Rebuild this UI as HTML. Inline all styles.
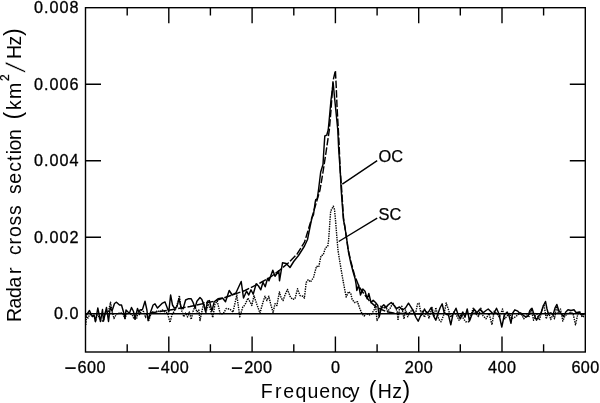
<!DOCTYPE html>
<html><head><meta charset="utf-8"><title>Radar cross section spectrum</title>
<style>
html,body{margin:0;padding:0;background:#fff;}
body{width:600px;height:403px;overflow:hidden;}
svg{display:block;}
text{font-family:"Liberation Sans","DejaVu Sans",sans-serif;fill:#000;}
.tk{font-size:16.2px;letter-spacing:1.0px;stroke:#000;stroke-width:0.3px;}
.tx{font-size:16.2px;letter-spacing:0.45px;stroke:#000;stroke-width:0.3px;}
.ax{font-size:19.5px;}
.lb{font-size:16.4px;stroke:#000;stroke-width:0.25px;}
</style></head><body>
<svg width="600" height="403" viewBox="0 0 600 403">
<rect x="0" y="0" width="600" height="403" fill="#fff"/>
<rect x="85.5" y="7.7" width="499.8" height="344.3" fill="none" stroke="#000" stroke-width="1.4"/>
<path d="M127.2 352.0 V344.3 M127.2 7.7 V15.4 M168.8 352.0 V336.5 M168.8 7.7 V23.2 M210.4 352.0 V344.3 M210.4 7.7 V15.4 M252.1 352.0 V336.5 M252.1 7.7 V23.2 M293.8 352.0 V344.3 M293.8 7.7 V15.4 M335.4 352.0 V336.5 M335.4 7.7 V23.2 M377.1 352.0 V344.3 M377.1 7.7 V15.4 M418.7 352.0 V336.5 M418.7 7.7 V23.2 M460.3 352.0 V344.3 M460.3 7.7 V15.4 M502.0 352.0 V336.5 M502.0 7.7 V23.2 M543.6 352.0 V344.3 M543.6 7.7 V15.4 M85.5 237.3 H101.0 M585.3 237.3 H569.8 M85.5 160.8 H101.0 M585.3 160.8 H569.8 M85.5 84.2 H101.0 M585.3 84.2 H569.8" stroke="#000" stroke-width="1.4" fill="none"/>
<path d="M85.5 313.8 H585.3" stroke="#000" stroke-width="1.45" fill="none"/>
<path d="M85.8 325.0 L86.5 316.5 L88.0 318.0 L89.5 315.0 L91.0 314.5 L92.5 316.5 L94.0 316.0 L95.5 321.5 L97.0 315.0 L98.5 316.5 L100.5 321.0 L102.0 321.5 L103.5 320.5 L105.0 313.0 L106.5 310.0 L108.0 314.0 L109.0 309.0 L110.5 302.2 L112.0 311.0 L114.0 318.5 L116.5 314.0 L118.5 313.5 L120.5 312.5 L123.0 314.0 L125.0 318.5 L126.5 314.0 L128.5 313.0 L130.0 314.0 L132.0 314.5 L134.0 319.0 L136.5 319.0 L138.0 313.0 L139.5 314.5 L141.9 310.0 L143.8 311.9 L145.6 317.5 L146.9 313.1 L148.8 320.6 L150.6 315.0 L152.5 311.9 L155.0 313.1 L157.5 310.6 L160.0 311.9 L162.5 310.0 L165.0 311.9 L167.5 313.1 L170.0 322.5 L171.9 315.0 L173.8 311.9 L176.2 307.5 L178.1 301.2 L179.4 295.6 L180.6 306.2 L181.9 311.2 L183.8 316.9 L185.6 313.1 L187.5 316.9 L189.4 311.9 L191.2 319.4 L193.1 311.2 L195.0 306.2 L196.9 311.9 L198.8 310.0 L200.0 320.5 L202.2 310.0 L203.8 302.5 L206.0 312.2 L208.2 304.0 L210.5 310.0 L212.8 317.5 L215.0 304.0 L217.2 301.0 L220.2 313.8 L223.2 313.8 L226.2 308.5 L230.0 309.2 L233.0 312.2 L236.8 295.0 L239.8 316.8 L242.8 307.0 L245.0 304.8 L248.0 298.0 L251.8 305.5 L254.0 295.8 L257.0 304.8 L260.0 313.1 L262.5 303.8 L265.0 296.2 L266.9 300.6 L268.8 296.2 L270.6 303.8 L273.1 312.5 L275.0 303.8 L276.9 305.6 L279.4 291.9 L281.2 298.1 L283.1 300.6 L285.0 295.0 L287.5 289.4 L290.0 296.2 L292.5 299.4 L295.0 298.8 L297.5 288.8 L300.0 295.6 L303.1 296.2 L304.4 298.1 L306.2 282.5 L308.2 279.7 L310.5 282.0 L313.5 277.5 L316.5 266.2 L318.7 267.0 L321.0 255.7 L323.2 255.0 L325.5 247.7 L327.7 246.5 L328.5 241.0 L329.2 232.0 L330.0 220.0 L330.7 211.0 L333.3 206.2 L334.5 209.5 L335.5 220.0 L336.7 235.0 L338.0 250.5 L340.2 264.0 L342.5 277.5 L344.7 289.5 L346.2 297.0 L348.5 291.7 L350.7 293.2 L352.2 299.5 L354.5 302.5 L357.5 301.8 L359.8 308.5 L362.0 313.8 L364.2 316.0 L366.5 313.0 L368.8 315.2 L371.8 313.8 L374.0 310.0 L375.5 304.8 L377.0 320.5 L379.2 316.8 L380.8 306.2 L383.8 308.5 L386.0 306.2 L387.5 311.5 L390.5 307.8 L392.8 302.5 L395.0 307.0 L397.2 311.5 L398.0 320.5 L399.5 308.5 L401.8 306.2 L404.0 319.0 L405.5 310.0 L407.8 316.8 L410.0 311.5 L413.0 310.0 L415.2 315.2 L417.5 304.0 L419.0 303.2 L421.2 314.5 L422.2 311.2 L424.5 317.2 L426.8 311.2 L429.0 318.0 L432.0 307.5 L434.2 316.5 L435.8 307.5 L438.8 319.5 L441.0 321.8 L444.0 314.2 L446.2 303.0 L448.5 309.8 L450.8 317.2 L453.8 312.0 L456.0 314.2 L459.0 320.2 L461.2 313.5 L463.5 318.8 L465.8 321.8 L468.8 321.8 L471.0 315.0 L473.2 308.2 L476.2 314.2 L478.5 316.5 L480.8 308.2 L483.0 315.8 L486.0 318.8 L489.0 313.5 L492.0 324.8 L494.2 311.2 L497.2 314.2 L499.5 317.2 L502.5 309.0 L504.8 318.8 L507.2 315.8 L509.5 313.5 L511.8 318.8 L514.8 317.2 L517.8 315.0 L520.8 312.8 L523.8 318.8 L526.8 315.0 L529.0 316.5 L531.2 309.0 L533.5 320.2 L536.5 312.8 L539.5 320.2 L541.8 309.8 L544.0 304.5 L546.2 318.8 L548.5 312.0 L550.8 319.5 L553.0 314.2 L554.5 318.8 L556.8 305.2 L558.2 312.8 L560.5 309.0 L562.8 321.0 L565.0 315.8 L568.0 313.5 L571.0 312.0 L573.2 314.2 L575.5 324.8 L577.8 314.2 L580.0 312.0 L582.2 317.2 L584.5 315.8" stroke="#000" stroke-width="1.4" fill="none" stroke-dasharray="1.4 1.0" stroke-linejoin="round"/>
<path d="M150.0 313.0 L170.0 310.0 L190.0 306.5 L215.0 301.0 L230.0 295.7 L245.0 290.5 L260.0 283.0 L270.0 277.5 L279.0 270.7 L288.0 263.2 L297.0 254.2 L304.5 242.2 L310.0 224.0 L315.0 207.0 L320.0 190.0 L323.0 172.0 L326.0 152.5 L328.2 137.5 L329.3 130.0 L331.0 110.0 L333.0 81.0 L335.4 70.6 L336.2 86.0 L337.0 106.0 L338.0 124.0 L339.0 142.0 L340.2 170.5 L341.7 190.0 L343.5 218.0 L346.5 238.0 L348.0 249.0 L351.0 262.0 L354.5 275.0 L359.0 286.5 L364.0 294.0 L369.5 301.0 L377.0 307.7 L386.0 311.5 L395.0 313.3 L425.0 314.0" stroke="#000" stroke-width="1.45" fill="none" stroke-dasharray="7.5 2" stroke-linejoin="round"/>
<path d="M85.5 314.0 L86.5 315.0 L89.5 310.5 L91.0 314.0 L92.5 316.5 L94.0 315.0 L95.5 321.5 L97.8 308.0 L100.5 321.5 L102.5 309.5 L103.5 321.0 L106.5 307.5 L108.5 321.5 L110.3 307.0 L112.0 311.0 L114.5 303.5 L116.5 302.2 L119.5 305.0 L121.5 305.0 L123.5 312.0 L125.0 318.5 L126.0 310.0 L128.0 312.0 L129.5 313.0 L131.5 307.5 L133.5 311.5 L135.0 319.0 L137.5 308.5 L139.0 312.5 L140.0 310.0 L142.5 309.4 L145.0 301.2 L146.9 310.0 L148.1 320.6 L150.6 311.9 L153.1 305.0 L155.0 303.8 L157.5 308.1 L160.0 305.6 L162.5 303.1 L165.0 301.9 L166.9 306.9 L168.8 311.9 L170.6 295.0 L172.5 305.0 L174.4 308.1 L176.9 306.9 L179.0 298.8 L181.2 307.5 L183.1 308.8 L185.6 300.0 L188.1 298.8 L191.2 298.8 L193.1 302.5 L195.0 308.1 L196.9 301.2 L200.0 297.5 L201.9 299.4 L203.8 305.0 L205.6 311.9 L207.5 301.2 L209.4 300.6 L211.9 311.2 L214.2 301.8 L218.0 298.8 L222.5 298.0 L225.5 301.8 L229.2 290.5 L232.2 295.0 L236.0 292.8 L241.2 281.5 L243.5 298.0 L246.5 291.2 L248.8 295.0 L251.0 289.8 L253.2 294.2 L256.2 283.8 L258.5 286.0 L260.8 289.8 L263.0 282.2 L265.2 286.8 L267.5 278.5 L269.0 280.8 L272.8 270.2 L275.0 276.2 L278.8 271.0 L279.5 280.8 L282.5 262.8 L286.2 263.5 L290.0 267.5 L293.7 261.5 L298.5 255.5 L302.0 250.0 L304.5 246.0 L307.5 239.5 L310.2 226.0 L312.0 217.7 L313.5 214.7 L315.0 203.5 L315.7 199.7 L317.2 199.0 L318.5 190.0 L320.7 172.0 L323.0 164.5 L323.7 152.5 L324.8 136.0 L326.7 135.2 L328.2 130.0 L329.2 120.0 L331.0 100.0 L333.2 83.0 L334.3 95.0 L336.0 112.0 L337.8 130.0 L338.7 149.5 L340.2 170.5 L341.2 190.0 L342.3 205.0 L343.5 220.0 L345.0 227.5 L346.5 238.0 L347.3 243.0 L348.5 252.0 L350.7 262.5 L353.0 271.5 L355.2 279.0 L356.0 283.5 L356.8 290.5 L358.7 285.2 L360.5 295.0 L362.8 289.0 L365.0 291.2 L367.2 298.8 L368.8 293.5 L371.0 302.5 L373.2 300.2 L375.5 302.5 L377.8 305.5 L379.2 316.8 L381.5 307.0 L383.8 304.8 L386.0 307.8 L388.2 304.8 L391.2 302.5 L394.2 305.5 L396.5 308.5 L399.5 307.0 L402.5 310.0 L405.5 307.8 L408.5 303.2 L411.5 307.8 L413.8 312.2 L416.0 317.5 L418.2 321.2 L420.5 316.0 L422.2 314.2 L424.5 309.0 L426.8 313.5 L429.0 311.2 L431.2 307.5 L433.5 315.8 L435.8 320.2 L438.0 313.5 L440.2 307.5 L442.2 303.8 L444.0 312.0 L446.2 314.2 L448.5 315.0 L450.8 324.8 L453.0 314.2 L456.0 308.2 L458.2 315.0 L460.5 318.8 L462.8 312.0 L465.0 317.2 L467.2 309.0 L469.5 321.0 L471.8 315.0 L474.0 309.0 L477.0 312.8 L480.0 309.0 L483.0 312.8 L486.0 310.5 L488.2 309.0 L490.5 311.2 L493.5 314.2 L496.5 308.2 L498.8 313.5 L501.8 327.0 L504.0 316.5 L505.0 314.2 L507.2 312.0 L508.8 315.0 L511.0 323.2 L512.5 313.5 L514.8 309.8 L517.8 311.2 L520.0 313.5 L523.0 315.0 L526.0 317.2 L528.2 315.8 L529.8 310.5 L532.0 308.2 L534.2 315.0 L536.5 320.2 L538.8 315.8 L541.0 313.5 L543.2 306.0 L545.5 301.5 L547.0 309.0 L548.5 314.2 L550.8 312.8 L553.0 315.0 L555.2 307.5 L556.8 304.5 L559.0 311.2 L561.2 313.5 L563.5 316.5 L565.8 312.0 L568.0 309.8 L571.0 310.5 L574.0 309.8 L576.2 312.8 L579.2 312.0 L581.5 315.0 L584.5 314.2" stroke="#000" stroke-width="1.45" fill="none" stroke-linejoin="round"/>
<path d="M377.2 160.7 L342.3 184.2 M377.2 218.2 L338.7 241.5" stroke="#000" stroke-width="1.4" fill="none"/>
<text x="378.6" y="162.4" class="lb">OC</text>
<text x="378.6" y="220.2" class="lb">SC</text>
<text x="85.2" y="373.0" text-anchor="middle" class="tx"><tspan font-size="20.5px" dy="1.9">−</tspan><tspan dy="-1.9" dx="0.6">600</tspan></text>
<text x="168.5" y="373.0" text-anchor="middle" class="tx"><tspan font-size="20.5px" dy="1.9">−</tspan><tspan dy="-1.9" dx="0.6">400</tspan></text>
<text x="251.8" y="373.0" text-anchor="middle" class="tx"><tspan font-size="20.5px" dy="1.9">−</tspan><tspan dy="-1.9" dx="0.6">200</tspan></text>
<text x="335.7" y="373.0" text-anchor="middle" class="tx">0</text>
<text x="419.0" y="373.0" text-anchor="middle" class="tx">200</text>
<text x="502.3" y="373.0" text-anchor="middle" class="tx">400</text>
<text x="585.6" y="373.0" text-anchor="middle" class="tx">600</text>
<text x="79.6" y="319.1" text-anchor="end" class="tk">0.0</text>
<text x="79.6" y="242.6" text-anchor="end" class="tk">0.002</text>
<text x="79.6" y="166.1" text-anchor="end" class="tk">0.004</text>
<text x="79.6" y="89.5" text-anchor="end" class="tk">0.006</text>
<text x="79.6" y="13.0" text-anchor="end" class="tk">0.008</text>
<text y="397.8" class="ax"><tspan x="260.8 274.9 283.3 295.5 307.4 319.3 331 341.7 349.7">Frequency</tspan> <tspan x="368.8" font-size="23px">(</tspan><tspan x="377.7 392.2">Hz</tspan><tspan x="402.5" font-size="23px">)</tspan></text>
<text transform="translate(21.3 0) rotate(-90)" class="ax" id="ylab"><tspan x="-322.1 -308.4 -297.9 -287.4 -273.9">Radar</tspan> <tspan x="-255 -244.5 -236.9 -225.4 -214.9">cross</tspan> <tspan x="-194.1 -183.8 -171.7 -161 -154.3 -150.5 -140">section</tspan> <tspan x="-119.6" font-size="23px">(</tspan><tspan x="-110.1 -99">km</tspan><tspan x="-81" dy="-12.6" font-size="12px" stroke="#000" stroke-width="0.3">2</tspan><tspan x="-58.9 -45.6" dy="12.6">Hz</tspan><tspan x="-36.0" font-size="23px">)</tspan></text>
<text transform="translate(24.8 72.8) rotate(-90) skewX(-10)" font-size="27px" stroke="#fff" stroke-width="0.5">/</text>
</svg>
</body></html>
